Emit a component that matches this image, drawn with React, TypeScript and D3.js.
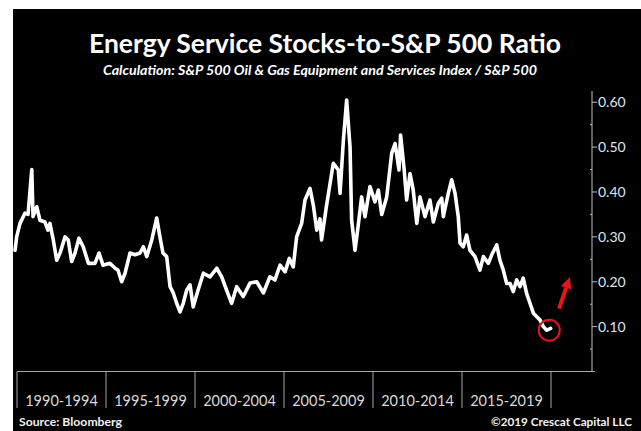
import React from 'react'
import * as d3 from 'd3'

// weekly-ish readings of the ratio
const years = [
    1989.89, 1989.98, 1990.17, 1990.45, 1990.62, 1990.83, 1990.9, 1991.11, 1991.29, 1991.57,
    1991.74, 1991.85, 1992.04, 1992.23, 1992.42, 1992.7, 1992.88, 1993.07, 1993.26, 1993.48,
    1993.72, 1994.01, 1994.38, 1994.61, 1994.83, 1995.22, 1995.51, 1995.67, 1995.88, 1996.07,
    1996.35, 1996.63, 1996.91, 1997.1, 1997.29, 1997.57, 1997.85, 1998.03, 1998.2, 1998.41,
    1998.6, 1998.78, 1998.97, 1999.16, 1999.34, 1999.53, 1999.72, 1999.9, 2000.17, 2000.47,
    2000.84, 2001.22, 2001.5, 2001.78, 2002.06, 2002.34, 2002.71, 2003.09, 2003.47, 2003.84,
    2004.21, 2004.49, 2004.78, 2005.06, 2005.3, 2005.52, 2005.71, 2005.99, 2006.18, 2006.46,
    2006.65, 2006.84, 2007.02, 2007.11, 2007.38, 2007.77, 2008.05, 2008.15, 2008.33, 2008.52,
    2008.71, 2008.8, 2008.99, 2009.17, 2009.36, 2009.55, 2009.83, 2010.11, 2010.3, 2010.49,
    2010.77, 2011.05, 2011.24, 2011.46, 2011.55, 2011.75, 2011.89, 2012.08, 2012.26, 2012.46,
    2012.64, 2012.92, 2013.2, 2013.39, 2013.67, 2013.86, 2013.95, 2014.23, 2014.42, 2014.61,
    2014.79, 2014.89, 2015.07, 2015.26, 2015.45, 2015.73, 2016.01, 2016.2, 2016.48, 2016.67,
    2016.95, 2017.13, 2017.32, 2017.51, 2017.7, 2017.88, 2018.07, 2018.26, 2018.44, 2018.63,
    2018.82, 2019.01, 2019.2, 2019.38, 2019.57, 2019.76, 2019.98,
]
const ratio = [
    0.27, 0.3, 0.33, 0.353, 0.35, 0.45, 0.345, 0.367, 0.337, 0.333,
    0.315, 0.33, 0.293, 0.248, 0.264, 0.3, 0.293, 0.245, 0.264, 0.297,
    0.278, 0.241, 0.241, 0.264, 0.237, 0.241, 0.23, 0.226, 0.2, 0.219,
    0.264, 0.26, 0.264, 0.278, 0.256, 0.293, 0.342, 0.3, 0.264, 0.256,
    0.189, 0.175, 0.152, 0.133, 0.152, 0.181, 0.193, 0.144, 0.181, 0.219,
    0.211, 0.23, 0.211, 0.181, 0.152, 0.189, 0.167, 0.197, 0.2, 0.175,
    0.211, 0.204, 0.237, 0.222, 0.252, 0.233, 0.3, 0.33, 0.382, 0.408,
    0.37, 0.315, 0.34, 0.293, 0.367, 0.464, 0.449, 0.397, 0.512, 0.605,
    0.5, 0.337, 0.27, 0.326, 0.389, 0.345, 0.412, 0.378, 0.404, 0.35,
    0.389, 0.486, 0.508, 0.449, 0.527, 0.45, 0.382, 0.441, 0.404, 0.33,
    0.389, 0.345, 0.382, 0.333, 0.375, 0.386, 0.345, 0.397, 0.427, 0.397,
    0.345, 0.286, 0.278, 0.304, 0.27, 0.256, 0.226, 0.256, 0.241, 0.26,
    0.282, 0.248, 0.226, 0.196, 0.196, 0.178, 0.204, 0.189, 0.208, 0.174,
    0.152, 0.13, 0.122, 0.115, 0.1, 0.092, 0.096,
]

const periods = ['1990-1994', '1995-1999', '2000-2004', '2005-2009', '2010-2014', '2015-2019']
const periodBreaks = [1990, 1995, 2000, 2005, 2010, 2015, 2020]
const yTicks = [0.1, 0.2, 0.3, 0.4, 0.5, 0.6]
const yMinorTicks = [0.05, 0.15, 0.25, 0.35, 0.45, 0.55]

// annotation: circle on the latest reading, arrow pointing up
const circleAt = { year: 2019.9, value: 0.092 }
const arrowFrom = { year: 2020.45, value: 0.14 }
const arrowTo = { year: 2021.05, value: 0.21 }

const font = "Lato, 'Open Sans', sans-serif"

export default function App() {
    const W = 641
    const H = 431
    const x = d3.scaleLinear().domain([1990, 2020]).range([17, 551])
    const y = d3.scaleLinear().domain([0, 0.625]).range([371.5, 91])
    const axisX = 592
    const baseY = y(0)

    const line = d3
        .line<number>()
        .x((d, i) => x(years[i]))
        .y((d) => y(d))

    // arrow geometry
    const ax1 = x(arrowFrom.year), ay1 = y(arrowFrom.value)
    const ax2 = x(arrowTo.year), ay2 = y(arrowTo.value)
    const len = Math.hypot(ax2 - ax1, ay2 - ay1)
    const ux = (ax2 - ax1) / len, uy = (ay2 - ay1) / len
    const headL = 11, headW = 5.5
    const bx = ax2 - ux * headL, by = ay2 - uy * headL
    const head = [
        [ax2, ay2],
        [bx - uy * headW, by + ux * headW],
        [bx + uy * headW, by - ux * headW],
    ].map((p) => p.join(',')).join(' ')

    return (
        <svg width={W} height={H} style={{ position: 'absolute', left: 0, top: 0 }}>
            <rect width={W} height={H} fill="#fff" />
            <rect x={13} y={9} width={W - 13} height={H - 9} fill="#000" />

            <text x={325} y={53} fill="#fff" fontFamily={font} fontWeight="bold" fontSize={26.5}
                textAnchor="middle" textLength={472} lengthAdjust="spacingAndGlyphs">
                Energy Service Stocks-to-S&amp;P 500 Ratio
            </text>
            <text x={320} y={75} fill="#fff" fontFamily={font} fontWeight="bold" fontStyle="italic" fontSize={12.5}
                textAnchor="middle" textLength={434} lengthAdjust="spacingAndGlyphs">
                Calculation: S&amp;P 500 Oil &amp; Gas Equipment and Services Index / S&amp;P 500
            </text>

            {/* right value axis */}
            <line x1={axisX} x2={axisX} y1={91} y2={baseY} stroke="#bfbfbf" strokeWidth={1} />
            {yTicks.map((t) => (
                <g key={t}>
                    <line x1={axisX} x2={axisX + 5} y1={y(t)} y2={y(t)} stroke="#bfbfbf" />
                    <text x={axisX + 6} y={y(t) + 5} fill="#dfe6ee" fontFamily={font} fontSize={14}>
                        {t.toFixed(2)}
                    </text>
                </g>
            ))}
            {yMinorTicks.map((t) => (
                <line key={t} x1={axisX - 2} x2={axisX} y1={y(t)} y2={y(t)} stroke="#bfbfbf" />
            ))}

            {/* category axis with 5-year bands */}
            <line x1={x(1990)} x2={axisX + 3} y1={baseY} y2={baseY} stroke="#a6a6a6" />
            {periodBreaks.map((b) => (
                <line key={b} x1={x(b)} x2={x(b)} y1={baseY} y2={408} stroke="#a6a6a6" />
            ))}
            {periods.map((p, i) => (
                <text key={p} x={(x(periodBreaks[i]) + x(periodBreaks[i + 1])) / 2} y={405.5}
                    fill="#d9d9d9" fontFamily={font} fontSize={14.5} textAnchor="middle">
                    {p}
                </text>
            ))}

            <path d={line(ratio) || ''} fill="none" stroke="#fff" strokeWidth={3.6}
                strokeLinejoin="round" strokeLinecap="round" />

            <circle cx={x(circleAt.year)} cy={y(circleAt.value)} r={10.5} fill="none" stroke="#e8141c" strokeWidth={2} />
            <line x1={ax1} y1={ay1} x2={bx} y2={by} stroke="#e8141c" strokeWidth={4} />
            <polygon points={head} fill="#e8141c" />

            <text x={19} y={426} fill="#f2f2f2" fontFamily={font} fontWeight="bold" fontSize={12}
                textLength={103} lengthAdjust="spacingAndGlyphs">
                Source: Bloomberg
            </text>
            <text x={632} y={426} fill="#f2f2f2" fontFamily={font} fontWeight="bold" fontSize={12}
                textAnchor="end" textLength={141} lengthAdjust="spacingAndGlyphs">
                ©2019 Crescat Capital LLC
            </text>
        </svg>
    )
}
